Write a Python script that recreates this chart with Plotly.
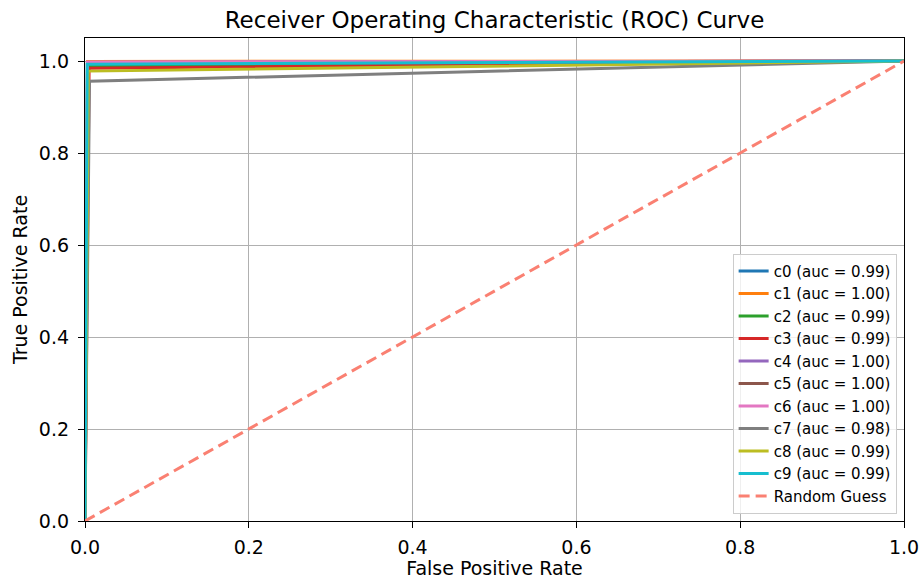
import plotly.graph_objects as go

classes = ["c0", "c1", "c2", "c3", "c4", "c5", "c6", "c7", "c8", "c9"]
auc_values = [0.99, 1.00, 0.99, 0.99, 1.00, 1.00, 1.00, 0.98, 0.99, 0.99]
# ROC points for each class: (0,0) -> (fpr, tpr) -> (1,1)
fpr_points = [
    [0.0, 0.004, 1.0],
    [0.0, 0.003, 1.0],
    [0.0, 0.004, 1.0],
    [0.0, 0.005, 1.0],
    [0.0, 0.003, 1.0],
    [0.0, 0.003, 1.0],
    [0.0, 0.003, 1.0],
    [0.0, 0.0055, 1.0],
    [0.0, 0.004, 1.0],
    [0.0, 0.0027, 1.0],
]
tpr_points = [
    [0.0, 0.986, 1.0],
    [0.0, 0.999, 1.0],
    [0.0, 0.988, 1.0],
    [0.0, 0.984, 1.0],
    [0.0, 0.997, 1.0],
    [0.0, 0.996, 1.0],
    [0.0, 0.998, 1.0],
    [0.0, 0.956, 1.0],
    [0.0, 0.978, 1.0],
    [0.0, 0.993, 1.0],
]
colors = ["#1f77b4", "#ff7f0e", "#2ca02c", "#d62728", "#9467bd",
          "#8c564b", "#e377c2", "#7f7f7f", "#bcbd22", "#17becf"]
guess_x = [0.0, 1.0]
guess_y = [0.0, 1.0]
tick_vals = [0.0, 0.2, 0.4, 0.6, 0.8, 1.0]
tick_text = ["0.0", "0.2", "0.4", "0.6", "0.8", "1.0"]

fig = go.Figure()
for name, auc, fx, ty, col in zip(classes, auc_values, fpr_points, tpr_points, colors):
    fig.add_trace(go.Scatter(
        x=fx, y=ty, mode="lines",
        name=f"{name} (auc = {auc:.2f})",
        line=dict(color=col, width=3),
    ))
fig.add_trace(go.Scatter(
    x=guess_x, y=guess_y, mode="lines", name="Random Guess",
    line=dict(color="#FA8072", width=3, dash="11px,6px"),
))

font_family = "DejaVu Sans"
fig.update_layout(
    width=923, height=579,
    margin=dict(l=85, r=19, t=38, b=58),
    paper_bgcolor="white", plot_bgcolor="white",
    font=dict(family=font_family, color="black", size=19),
    title=dict(text="Receiver Operating Characteristic (ROC) Curve",
               x=0.5, xref="paper", xanchor="center",
               y=1 - 20 / 579, yref="container", yanchor="middle",
               font=dict(size=23, color="black")),
    showlegend=True,
    legend=dict(
        x=0.991, y=0.015, xanchor="right", yanchor="bottom",
        bgcolor="rgba(255,255,255,0.8)", bordercolor="#cccccc", borderwidth=1,
        font=dict(size=15), tracegroupgap=0, itemwidth=30,
    ),
)
axis_common = dict(
    showline=True, linecolor="black", linewidth=1.3, mirror=True,
    ticks="outside", ticklen=6, tickwidth=1.3, tickcolor="black",
    showgrid=True, gridcolor="#b0b0b0", gridwidth=1,
    zeroline=False, tickfont=dict(size=19), automargin=False,
)
fig.update_xaxes(range=[0, 1], tickvals=tick_vals, ticktext=tick_text,
                 ticklabelstandoff=3,
                 title=dict(text="False Positive Rate", font=dict(size=19), standoff=4),
                 **axis_common)
fig.update_yaxes(range=[0, 1.05], tickvals=tick_vals, ticktext=tick_text,
                 ticklabelstandoff=5,
                 title=dict(text="True Positive Rate", font=dict(size=19), standoff=6),
                 **axis_common)

fig.write_html("out.html")
